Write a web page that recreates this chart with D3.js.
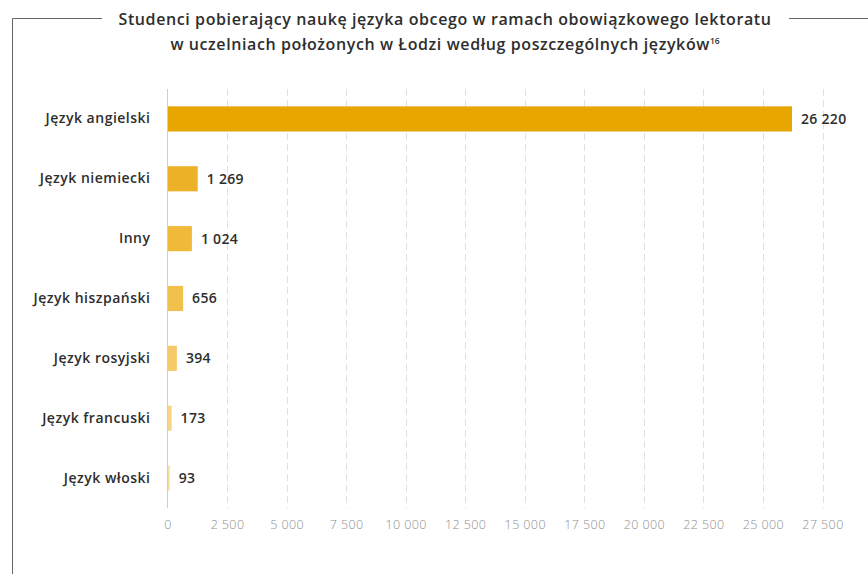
<!DOCTYPE html>
<html><head><meta charset="utf-8">
<script src="https://cdn.jsdelivr.net/npm/d3@7"></script>
<style>
body{margin:0;background:#fff;}
svg{display:block;font-family:"Open Sans", "Noto Sans", sans-serif;}
</style></head>
<body>
<script>
const categories = ["Język angielski","Język niemiecki","Inny","Język hiszpański","Język rosyjski","Język francuski","Język włoski"];
const values = [26220, 1269, 1024, 656, 394, 173, 93];
const valueLabels = ["26 220","1 269","1 024","656","394","173","93"];
const colors = ["#e8a600","#edb127","#f0b938","#f2c04d","#f5ca69","#f7d486","#f9dea2"];
const tickValues = [0,2500,5000,7500,10000,12500,15000,17500,20000,22500,25000,27500];
const titleLine1 = "Studenci pobierający naukę języka obcego w ramach obowiązkowego lektoratu";
const titleLine2 = "w uczelniach położonych w Łodzi według poszczególnych języków";
const footnote = "16";

const W = 868, H = 574;
const svg = d3.select("body").append("svg").attr("width", W).attr("height", H);

// frame
const frame = svg.append("g").attr("stroke","#666").attr("stroke-width",1).attr("fill","none");
frame.append("path").attr("d", `M12.5,${H} V18.5 H102`);
frame.append("path").attr("d", `M789,18.5 H${W}`);

// title
const title = svg.append("text").attr("text-anchor","middle").attr("fill","#2e2e2e")
  .style("font-weight","600").style("font-size","16px").style("letter-spacing","0.6px");
title.append("tspan").attr("x",445).attr("y",25).text(titleLine1);
const t2 = title.append("tspan").attr("x",445).attr("y",50).text(titleLine2);
t2.append("tspan").attr("dy",-6).style("font-size","8.5px").style("letter-spacing","0px").text(footnote);

const x = d3.scaleLinear().domain([0,27500]).range([167.5,822.5]);
const y = d3.scaleBand().domain(categories).range([89,508]).paddingInner(0.58).paddingOuter(0.29);

// grid
svg.append("g").selectAll("line").data(tickValues.slice(1)).join("line")
  .attr("x1",d=>Math.round(x(d))+0.5).attr("x2",d=>Math.round(x(d))+0.5)
  .attr("y1",89).attr("y2",508)
  .attr("stroke","#e0e0e0").attr("stroke-dasharray","7,4").attr("stroke-width",1);

// x axis labels
const xAxis = d3.axisBottom(x).tickValues(tickValues).tickSize(0).tickPadding(0)
  .tickFormat(d => d3.format(",")(d).replace(/,/g," "));
const gx = svg.append("g").attr("transform","translate(0,520)").call(xAxis);
gx.select(".domain").remove();
gx.selectAll("text").attr("fill","#8f8f8f").style("font-size","12.5px").style("font-weight","300")
  .style("letter-spacing","0.4px").style("font-family","'Open Sans', sans-serif");

// bars
svg.append("g").selectAll("rect").data(values).join("rect")
  .attr("x",x(0)).attr("y",(d,i)=>y(categories[i]))
  .attr("width",d=>x(d)-x(0)).attr("height",y.bandwidth())
  .attr("fill",(d,i)=>colors[i]);

// y axis line
svg.append("line").attr("x1",167.5).attr("x2",167.5).attr("y1",89).attr("y2",508)
  .attr("stroke","#cfcfcf").attr("stroke-width",1);

// category labels
const yAxis = d3.axisLeft(y).tickSize(0).tickPadding(17);
const gy = svg.append("g").attr("transform","translate(167.5,0)").call(yAxis);
gy.select(".domain").remove();
gy.selectAll("text").attr("fill","#2e2e2e").style("font-size","14px").style("letter-spacing","0.5px").style("font-weight","600").style("font-family","'Open Sans', sans-serif");

// value labels
svg.append("g").selectAll("text").data(values).join("text")
  .attr("x",d=>x(d)+9).attr("y",(d,i)=>y(categories[i])+y.bandwidth()/2)
  .attr("dy","0.35em").attr("fill","#2e2e2e")
  .style("font-size","14px").style("font-weight","600").style("letter-spacing","0.3px")
  .text((d,i)=>valueLabels[i]);
</script>
</body></html>
